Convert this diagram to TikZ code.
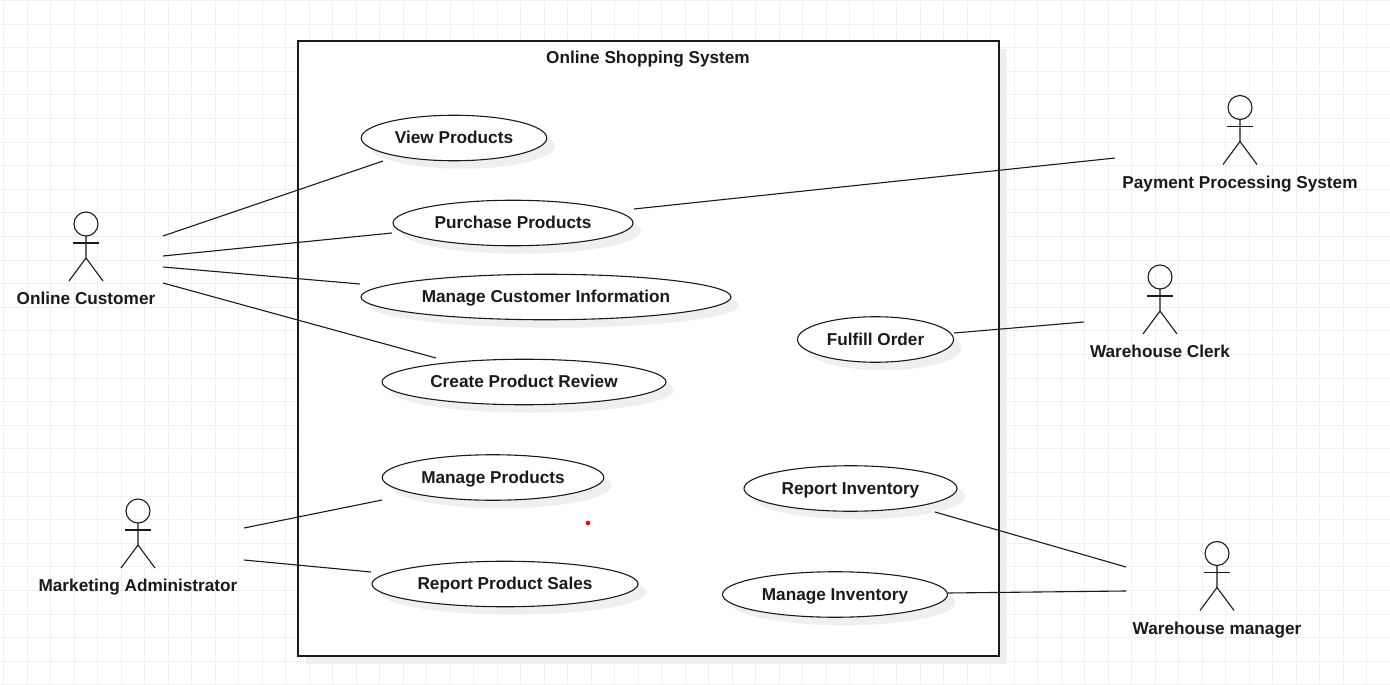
\documentclass[tikz,border=0pt]{standalone}
\usepackage{fontspec}
\setmainfont{Liberation Sans}
\usetikzlibrary{shadows,shapes.geometric}
\definecolor{gridgray}{HTML}{F0F0F0}
\definecolor{shadowgray}{HTML}{EFEFEF}
\definecolor{inkblack}{HTML}{1A1A1A}
\tikzset{
	usecase/.style={ellipse, draw=inkblack, line width=1.1pt, fill=white, inner sep=0pt, minimum height=45.5, text=inkblack, text height=11, text depth=0, font=\fontsize{17.2}{20}\selectfont\bfseries, drop shadow={shadow xshift=8pt, shadow yshift=-8pt, fill=shadowgray, opacity=1}},
	actorlabel/.style={text=inkblack, inner sep=0pt, text height=13, text depth=0, font=\fontsize{17.2}{20}\selectfont\bfseries},
	assoc/.style={line width=1.1pt, color=inkblack},
}
\def\stickactor[#1](#2, #3, #4)#5{
	\draw[assoc] (#2, #3) circle (12);
	\draw[assoc] (#2, #3 + 12) -- (#2, #3 + 34) -- (#2 - 17, #3 + 57);
	\draw[assoc] (#2, #3 + 34) -- (#2 + 17, #3 + 57);
	\draw[assoc] (#2 - 13, #3 + 19) -- (#2 + 13, #3 + 19);
	\node[actorlabel] (#1) at (#2, #4) {#5};
}

\begin{document}
\begin{tikzpicture}[x=1pt, y=-1pt]
	%%%%% START %%%%%
	\useasboundingbox (0, 0) rectangle (1390, 685);
	\fill[white] (0, 0) rectangle (1390, 685);

	\foreach \gx in {0,...,59}
		\draw[line width=1pt, color=gridgray] (3.5 + 23.5*\gx, 0) -- (3.5 + 23.5*\gx, 685);
	\foreach \gy in {0,...,29}
		\draw[line width=1pt, color=gridgray] (0, 0.5 + 23.6*\gy) -- (1390, 0.5 + 23.6*\gy);

	\fill[shadowgray] (306, 49) rectangle (1007, 664);
	\draw[line width=1.1pt, color=inkblack, fill=white] (298, 41) rectangle (999, 656);
	\node[actorlabel] (systemtitle) at (648, 57) {Online Shopping System};

	\node[usecase, minimum width=185.5] (viewproducts) at (454, 138) {View Products};
	\node[usecase, minimum width=240] (purchaseproducts) at (513, 223) {Purchase Products};
	\node[usecase, minimum width=370] (managecustomer) at (546, 297) {Manage Customer Information};
	\node[usecase, minimum width=284] (createreview) at (524, 382) {Create Product Review};
	\node[usecase, minimum width=156] (fulfillorder) at (875.5, 339.5) {Fulfill Order};
	\node[usecase, minimum width=221.5] (manageproducts) at (493, 477.5) {Manage Products};
	\node[usecase, minimum width=266] (reportsales) at (505, 584) {Report Product Sales};
	\node[usecase, minimum width=213] (reportinventory) at (850.5, 488.5) {Report Inventory};
	\node[usecase, minimum width=225] (manageinventory) at (835, 594.5) {Manage Inventory};

	\fill[red] (588, 523) circle (2.3);

	\stickactor[onlinecustomer](86, 224, 298){Online Customer}
	\stickactor[marketingadmin](138, 511, 585){Marketing Administrator}
	\stickactor[paymentsystem](1240, 107.5, 182){Payment Processing System}
	\stickactor[warehouseclerk](1160, 277, 351){Warehouse Clerk}
	\stickactor[warehousemanager](1217, 553.5, 628){Warehouse manager}

	\coordinate (customerA) at (163, 236);
	\coordinate (customerB) at (163, 256);
	\coordinate (customerC) at (163, 267);
	\coordinate (customerD) at (163, 283);
	\coordinate (viewend) at (383, 161);
	\coordinate (purchaseend) at (392, 233);
	\coordinate (infoend) at (360, 284);
	\coordinate (reviewend) at (436, 358);
	\coordinate (purchaseout) at (634, 209);
	\coordinate (paymentend) at (1115, 158);
	\coordinate (fulfillout) at (954, 333);
	\coordinate (clerkend) at (1084, 322);
	\coordinate (marketingA) at (244, 528);
	\coordinate (marketingB) at (244, 560);
	\coordinate (productsend) at (382, 500);
	\coordinate (salesend) at (371, 572);
	\coordinate (reportout) at (935, 512);
	\coordinate (inventoryout) at (948, 593);
	\coordinate (managerA) at (1126, 567);
	\coordinate (managerB) at (1126, 591);

	\draw[assoc] (customerA) -- (viewend);
	\draw[assoc] (customerB) -- (purchaseend);
	\draw[assoc] (customerC) -- (infoend);
	\draw[assoc] (customerD) -- (reviewend);
	\draw[assoc] (purchaseout) -- (paymentend);
	\draw[assoc] (fulfillout) -- (clerkend);
	\draw[assoc] (marketingA) -- (productsend);
	\draw[assoc] (marketingB) -- (salesend);
	\draw[assoc] (reportout) -- (managerA);
	\draw[assoc] (inventoryout) -- (managerB);
	%%%%% END %%%%%
\end{tikzpicture}
\end{document}
